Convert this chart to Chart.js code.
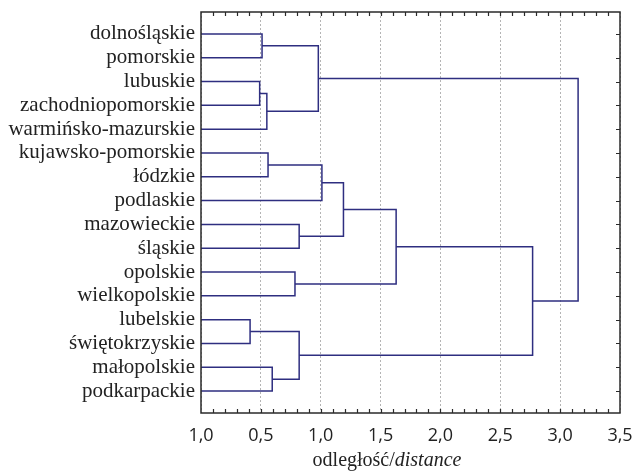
<!DOCTYPE html>
<html>
<head>
<meta charset="utf-8">
<script src="https://cdn.jsdelivr.net/npm/chart.js@4"></script>
<style>
  html, body { margin: 0; padding: 0; background: #fff; }
  #wrap { width: 632px; height: 472px; }
</style>
</head>
<body>
<div id="wrap"><canvas id="dendro" width="632" height="472"></canvas></div>
<script>
// leaf order, top to bottom
const regions = [
  'dolnośląskie', 'pomorskie', 'lubuskie', 'zachodniopomorskie', 'warmińsko-mazurskie',
  'kujawsko-pomorskie', 'łódzkie', 'podlaskie', 'mazowieckie', 'śląskie',
  'opolskie', 'wielkopolskie', 'lubelskie', 'świętokrzyskie', 'małopolskie', 'podkarpackie'
];

// merges: node ids 0-15 are leaves, merge k gets id 16 + k
const mergePairs = [
  [0, 1], [2, 3], [17, 4], [16, 18], [5, 6], [20, 7], [8, 9], [21, 22],
  [10, 11], [23, 24], [12, 13], [14, 15], [26, 27], [25, 28], [19, 29]
];
const mergeHeights = [0.51, 0.49, 0.55, 0.98, 0.56, 1.01, 0.82, 1.19, 0.785, 1.63, 0.41, 0.595, 0.82, 2.77, 3.15];

const xTickValues = [0, 0.5, 1.0, 1.5, 2.0, 2.5, 3.0, 3.5];
const xTickLabels = ['1,0', '0,5', '1,0', '1,5', '2,0', '2,5', '3,0', '3,5'];

const lineColor = '#2e2e80';

// build the U links of the tree
const nodeY = regions.map((r, i) => i + 1);
const nodeH = regions.map(() => 0);
const datasets = [];
mergePairs.forEach(([a, b], k) => {
  const h = mergeHeights[k];
  datasets.push({
    data: [
      { x: nodeH[a], y: nodeY[a] },
      { x: h, y: nodeY[a] },
      { x: h, y: nodeY[b] },
      { x: nodeH[b], y: nodeY[b] }
    ],
    showLine: true,
    borderColor: lineColor,
    borderWidth: 1.5,
    pointRadius: 0,
    tension: 0,
    fill: false
  });
  nodeY.push((nodeY[a] + nodeY[b]) / 2);
  nodeH.push(h);
});

// frame, inner ticks and axis title
const framePlugin = {
  id: 'frame',
  afterDraw(chart) {
    const { ctx, chartArea: area, scales } = chart;
    const xs = scales.x, ys = scales.y;
    ctx.save();
    ctx.strokeStyle = '#2a2a2a';
    ctx.lineWidth = 1.5;
    ctx.strokeRect(area.left, area.top, area.right - area.left, area.bottom - area.top);
    ctx.lineWidth = 1.2;
    ctx.beginPath();
    for (let i = 1; i < 35; i++) {
      const px = Math.round(xs.getPixelForValue(i / 10)) + 0.5;
      ctx.moveTo(px, area.bottom);
      ctx.lineTo(px, area.bottom - 4);
      ctx.moveTo(px, area.top);
      ctx.lineTo(px, area.top + 4);
    }
    regions.forEach((r, i) => {
      const py = Math.round(ys.getPixelForValue(i + 1)) + 0.5;
      ctx.moveTo(area.right, py);
      ctx.lineTo(area.right - 4, py);
    });
    ctx.stroke();

    // x title: odległość/distance
    const partA = 'odległość/';
    const partB = 'distance';
    ctx.fillStyle = '#222';
    ctx.textBaseline = 'alphabetic';
    ctx.textAlign = 'left';
    ctx.font = '20px "Liberation Serif"';
    const wA = ctx.measureText(partA).width;
    ctx.font = 'italic 20px "Liberation Serif"';
    const wB = ctx.measureText(partB).width;
    const x0 = 387 - (wA + wB) / 2;
    ctx.font = '20px "Liberation Serif"';
    ctx.fillText(partA, x0, 466);
    ctx.font = 'italic 20px "Liberation Serif"';
    ctx.fillText(partB, x0 + wA, 466);
    ctx.restore();
  }
};

new Chart(document.getElementById('dendro'), {
  type: 'scatter',
  data: { datasets: datasets },
  options: {
    responsive: false,
    animation: false,
    events: [],
    layout: { padding: { top: 12, right: 12, left: 0, bottom: 0 } },
    plugins: {
      legend: { display: false },
      tooltip: { enabled: false }
    },
    scales: {
      x: {
        type: 'linear',
        min: 0,
        max: 3.5,
        afterBuildTicks: (scale) => {
          scale.ticks = xTickValues.map(v => ({ value: v }));
        },
        afterFit: (scale) => {
          scale.height = 59;
          scale.paddingLeft = 0;
          scale.paddingRight = 0;
        },
        ticks: {
          padding: 12,
          color: '#222',
          font: { family: '"Open Sans"', size: 18 },
          maxRotation: 0,
          callback: (value, index) => xTickLabels[index]
        },
        grid: {
          drawTicks: false,
          color: '#b4b4b4',
          lineWidth: 1
        },
        border: { display: false, dash: [2, 2] }
      },
      y: {
        type: 'linear',
        reverse: true,
        min: 0.078,
        max: 16.922,
        afterBuildTicks: (scale) => {
          scale.ticks = regions.map((r, i) => ({ value: i + 1 }));
        },
        afterFit: (scale) => {
          scale.width = 201;
          scale.paddingTop = 0;
          scale.paddingBottom = 0;
        },
        ticks: {
          padding: 6,
          color: '#222',
          autoSkip: false,
          font: { family: '"Liberation Serif"', size: 21 },
          callback: (value) => regions[value - 1]
        },
        grid: { display: false, drawTicks: false },
        border: { display: false }
      }
    }
  },
  plugins: [framePlugin]
});
</script>
</body>
</html>
